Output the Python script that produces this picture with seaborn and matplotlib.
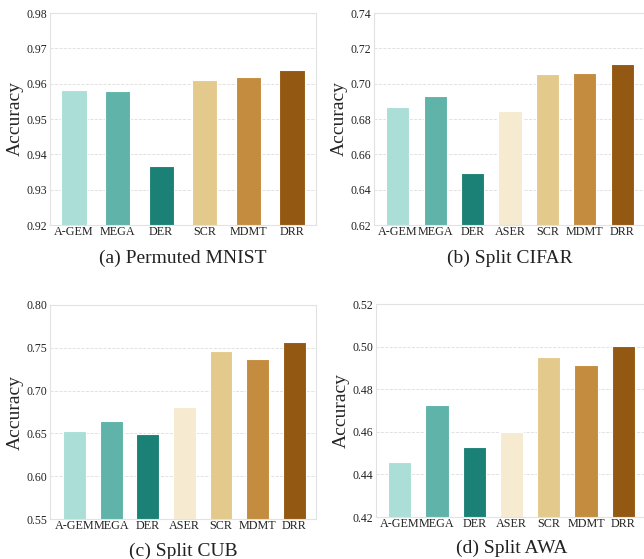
import matplotlib
matplotlib.use("Agg")
import matplotlib.pyplot as plt
import pandas as pd
import seaborn as sns

METHODS_A = ["A-GEM", "MEGA", "DER", "SCR", "MDMT", "DRR"]
METHODS = ["A-GEM", "MEGA", "DER", "ASER", "SCR", "MDMT", "DRR"]

ACC_MNIST = [0.9581, 0.9578, 0.9366, 0.9610, 0.9620, 0.9639]
ACC_CIFAR = [0.6866, 0.6930, 0.6494, 0.6847, 0.7055, 0.7062, 0.7111]
ACC_CUB = [0.6526, 0.6647, 0.6495, 0.6810, 0.7458, 0.7368, 0.7567]
ACC_AWA = [0.4458, 0.4728, 0.4527, 0.4600, 0.4952, 0.4914, 0.5002]

YTICKS_A = [0.92, 0.93, 0.94, 0.95, 0.96, 0.97, 0.98]
YTICKS_B = [0.62, 0.64, 0.66, 0.68, 0.70, 0.72, 0.74]
YTICKS_C = [0.55, 0.60, 0.65, 0.70, 0.75, 0.80]
YTICKS_D = [0.42, 0.44, 0.46, 0.48, 0.50, 0.52]

# brown-teal tones picked off the reference bars
COLORS = {
    "A-GEM": "#abded7",
    "MEGA": "#5fb3a9",
    "DER": "#1b8176",
    "ASER": "#f6ebd1",
    "SCR": "#e3ca8c",
    "MDMT": "#c48c3e",
    "DRR": "#935811",
}

W, H = 644, 559


def draw(fig, box, methods, values, yticks, xlim, caption, cap_y, width):
    left, top, right, bottom = box
    ax = fig.add_axes([left / W, 1 - bottom / H, (right - left) / W, (bottom - top) / H])
    df = pd.DataFrame({"method": methods, "acc": values})
    sns.barplot(
        data=df,
        x="method",
        y="acc",
        hue="method",
        palette=COLORS,
        order=methods,
        width=width,
        saturation=1,
        edgecolor="white",
        linewidth=0.8,
        legend=False,
        ax=ax,
    )
    ax.set_ylim(yticks[0], yticks[-1])
    ax.set_yticks(yticks)
    ax.set_yticklabels([f"{t:.2f}" for t in yticks], fontsize=8.5)
    ax.set_xlim(*xlim)
    ax.tick_params(axis="x", labelsize=8.7, pad=1, length=0)
    ax.tick_params(axis="y", pad=2, length=0)
    ax.set_xlabel("")
    ax.set_ylabel("Accuracy", fontsize=14, va="center")
    ax.yaxis.set_label_coords(-35 / (right - left), 0.5)
    ax.grid(True, axis="y", linestyle="--", color="#dddddd", linewidth=0.6)
    ax.grid(False, axis="x")
    ax.set_axisbelow(True)
    for sp in ax.spines.values():
        sp.set_color("#e2e2e2")
        sp.set_linewidth(0.8)
    fig.text((left + right) / 2 / W, 1 - cap_y / H, caption, ha="center", va="center", fontsize=14)
    return ax


def main():
    sns.set_theme(style="whitegrid")
    plt.rcParams["font.family"] = ["Liberation Serif", "DejaVu Serif"]
    plt.rcParams["text.color"] = "#222222"
    plt.rcParams["xtick.color"] = "#222222"
    plt.rcParams["ytick.color"] = "#222222"

    fig = plt.figure(figsize=(W / 100, H / 100), dpi=100)
    draw(fig, (50, 13, 316, 225), METHODS_A, ACC_MNIST, YTICKS_A, (-0.55, 5.55),
         "(a) Permuted MNIST", 258, 0.58)
    draw(fig, (374, 13, 646, 225), METHODS, ACC_CIFAR, YTICKS_B, (-0.635, 6.635),
         "(b) Split CIFAR", 258, 0.62)
    draw(fig, (50, 305, 316, 519), METHODS, ACC_CUB, YTICKS_C, (-0.67, 6.59),
         "(c) Split CUB", 551, 0.62)
    draw(fig, (376, 304, 647, 517), METHODS, ACC_AWA, YTICKS_D, (-0.635, 6.635),
         "(d) Split AWA", 548, 0.62)

    fig.savefig("out.png", dpi=100)
    plt.close(fig)


if __name__ == "__main__":
    main()
